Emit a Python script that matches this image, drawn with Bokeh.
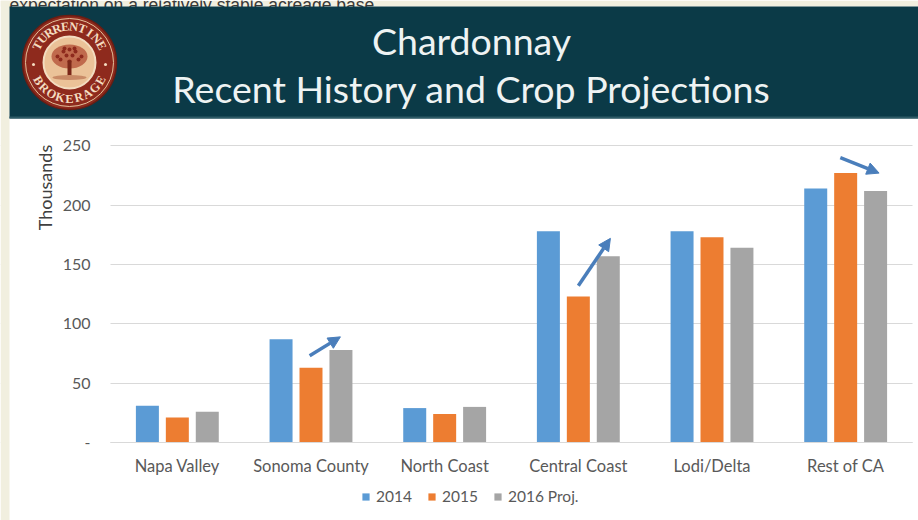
import numpy as np
from bokeh.plotting import figure
from bokeh.models import (Range1d, Legend, LegendItem, Label, Arrow, NormalHead,
                          FixedTicker, ColumnDataSource)
from bokeh.transform import dodge
from bokeh.core.properties import value
from bokeh.embed import file_html
from bokeh.resources import INLINE

# ---------------- data ----------------
regions = ["Napa Valley", "Sonoma County", "North Coast", "Central Coast", "Lodi/Delta", "Rest of CA"]
y2014 = [31, 87, 29, 178, 178, 214]
y2015 = [21, 63, 24, 123, 173, 227]
y2016 = [26, 78, 30, 157, 164, 212]
series_keys = ["y2014", "y2015", "y2016"]
series_names = ["2014", "2015", "2016 Proj."]
series_colors = ["#5b9bd5", "#ed7d31", "#a5a5a5"]
y_ticks = [0, 50, 100, 150, 200, 250]
y_tick_labels = ["-", "50", "100", "150", "200", "250"]
y_axis_title = "Thousands"
title_lines = ["Chardonnay", "Recent History and Crop Projections"]
slide_text = "expectation on a relatively stable acreage base."
logo_top = "TURRENTINE"
logo_bottom = "BROKERAGE"
# trend arrows (category-axis position, thousands)
arrow_x0 = [1.49, 3.50, 5.46]
arrow_y0 = [73, 132, 240]
arrow_x1 = [1.72, 3.74, 5.75]
arrow_y1 = [89, 172, 227]

FONT = "Lato"
HEADER_BG = "#0b3a47"
BEIGE = "#f1efdf"
LBL = "#595959"

# ---------------- layout geometry (canvas pixels -> data) ----------------
W, H = 918, 520
PX0, PX1 = 110, 912        # plot-area left/right
PY0, PY1 = 442, 145.3      # value 0 / value 250
K = (PX1 - PX0) / len(regions)
S = (PY0 - PY1) / 250.0


def X(px):
    return (px - PX0) / K


def Y(py):
    return (PY0 - py) / S


p = figure(width=W, height=H, x_range=Range1d(X(0), X(W)), y_range=Range1d(Y(H), Y(0)),
           output_backend="svg", toolbar_location=None, min_border=0,
           outline_line_color=None, background_fill_color="white", border_fill_color="white")

# ---------------- grid / axes ----------------
p.xgrid.grid_line_color = None
p.ygrid.grid_line_color = "#d9d9d9"
p.ygrid.ticker = FixedTicker(ticks=y_ticks)
# keep gridlines inside the plot area
p.quad(left=[X(0), 6.0], right=[0, X(W)], bottom=[-2, -2], top=[252, 252],
       fill_color="white", line_color=None)

p.yaxis.fixed_location = 0
p.yaxis.ticker = FixedTicker(ticks=y_ticks)
p.yaxis.major_label_overrides = {t: lab for t, lab in zip(y_ticks, y_tick_labels)}
p.yaxis.axis_line_color = None
p.yaxis.major_tick_line_color = None
p.yaxis.minor_tick_line_color = None
p.yaxis.major_tick_out = 0
p.yaxis.major_tick_in = 0
p.yaxis.major_label_standoff = 20
p.yaxis.major_label_text_font = FONT
p.yaxis.major_label_text_font_size = "16px"
p.yaxis.major_label_text_color = LBL

cat_pos = [i + 0.5 for i in range(len(regions))]
p.xaxis.fixed_location = 0
p.xaxis.bounds = (0, len(regions))
p.xaxis.ticker = FixedTicker(ticks=cat_pos)
p.xaxis.major_label_overrides = {c: r for c, r in zip(cat_pos, regions)}
p.xaxis.axis_line_color = "#d9d9d9"
p.xaxis.major_tick_line_color = None
p.xaxis.minor_tick_line_color = None
p.xaxis.major_tick_out = 0
p.xaxis.major_tick_in = 0
p.xaxis.major_label_standoff = 13
p.xaxis.major_label_text_font = FONT
p.xaxis.major_label_text_font_size = "16.5px"
p.xaxis.major_label_text_color = LBL

# ---------------- bars ----------------
src = ColumnDataSource(dict(pos=cat_pos, y2014=y2014, y2015=y2015, y2016=y2016))
offsets = [-0.224, 0.0, 0.224]
renderers = []
for key, color, off in zip(series_keys, series_colors, offsets):
    r = p.vbar(x=dodge("pos", off), top=key, width=0.172, source=src,
               fill_color=color, line_color=None)
    renderers.append(r)

p.add_layout(Label(x=X(44), y=Y(187), text=y_axis_title, angle=np.pi / 2,
                   text_align="center", text_baseline="middle", text_font=FONT,
                   text_font_size="18px", text_color="#404040"))

asrc = ColumnDataSource(dict(x0=arrow_x0, y0=arrow_y0, x1=arrow_x1, y1=arrow_y1))
p.add_layout(Arrow(x_start="x0", y_start="y0", x_end="x1", y_end="y1", source=asrc,
                   line_color="#4a7ebb", line_width=3.5,
                   end=NormalHead(size=12, fill_color="#4a7ebb", line_color="#4a7ebb")))

legend = Legend(items=[LegendItem(label=n, renderers=[r]) for n, r in zip(series_names, renderers)],
                orientation="horizontal", location=(361, 15), padding=0, margin=0,
                spacing=15, label_standoff=6, glyph_width=9, glyph_height=9,
                label_text_font=FONT, label_text_font_size="15.5px", label_text_color=LBL,
                border_line_color=None, background_fill_color=None)
p.add_layout(legend)

# ---------------- slide background strips ----------------
p.quad(left=[X(0), X(0)], right=[X(9), X(W)], bottom=[Y(H), Y(6)], top=[Y(0), Y(0)],
       fill_color=BEIGE, line_color=None)
p.text(x=[X(9)], y=[Y(4)], text=[slide_text], text_align="left", text_baseline="alphabetic",
       text_font=value("Liberation Sans"), text_font_size="17.5px", text_color="#3a3a3a")

# ---------------- header band ----------------
p.quad(left=[X(9)], right=[X(W)], bottom=[Y(118)], top=[Y(6)], fill_color=HEADER_BG, line_color=None)
p.segment(x0=[X(9)], x1=[X(W)], y0=[Y(117)], y1=[Y(117)], line_color="#2e5a66", line_width=2)

p.text(x=[X(471), X(471)], y=[Y(40), Y(88)], text=title_lines, text_align="center",
       text_baseline="middle", text_font=value(FONT), text_font_size="37.5px", text_color="#eef3f3")

# logo
LX, LY = X(69), Y(62)
p.circle(x=[LX], y=[LY], radius=47, radius_units="screen", fill_color="#8e2a1d",
         line_color="#6a1d13", line_width=1.5)
p.circle(x=[LX], y=[LY], radius=44, radius_units="screen", fill_color=None,
         line_color="#e3c09a", line_width=1)
p.circle(x=[LX], y=[LY], radius=26, radius_units="screen", fill_color="#ebc298",
         line_color="#f3dcc0", line_width=2)
p.ellipse(x=[LX], y=[LY + 6 / S], width=36, height=24, width_units="screen", height_units="screen",
          fill_color="#b85a40", fill_alpha=0.85, line_color=None)
tdx = np.array([-12, -6, 0, 6, 12, -9, -3, 3, 9, -5, 5, 0])
tdy = np.array([6, 11, 13, 11, 6, 3, 7, 7, 3, 14, 14, 1])
p.scatter(x=LX + tdx / K, y=LY + tdy / S, size=4, marker="circle", fill_color="#8e2a1d", line_color=None)
p.quad(left=[LX - 2 / K], right=[LX + 2 / K], bottom=[LY - 14 / S], top=[LY + 2 / S],
       fill_color="#7a2618", line_color=None)
p.ellipse(x=[LX], y=[LY - 15 / S], width=34, height=5, width_units="screen", height_units="screen",
          fill_color="#c98a66", line_color=None)

r_txt = 36
ang_top = np.deg2rad(np.linspace(152, 28, len(logo_top)))
p.text(x=LX + r_txt * np.cos(ang_top) / K, y=LY + r_txt * np.sin(ang_top) / S, text=list(logo_top),
       angle=ang_top - np.pi / 2, text_align="center", text_baseline="middle",
       text_font=value("Liberation Serif"), text_font_style="bold", text_font_size="12.5px",
       text_color="#f4dcc0")
ang_bot = np.deg2rad(np.linspace(210, 330, len(logo_bottom)))
p.text(x=LX + r_txt * np.cos(ang_bot) / K, y=LY + r_txt * np.sin(ang_bot) / S, text=list(logo_bottom),
       angle=ang_bot + np.pi / 2, text_align="center", text_baseline="middle",
       text_font=value("Liberation Serif"), text_font_style="bold", text_font_size="12.5px",
       text_color="#f4dcc0")
p.scatter(x=[LX - r_txt / K, LX + r_txt / K], y=[LY - 2 / S, LY - 2 / S], size=3, marker="circle",
          fill_color="#f4dcc0", line_color=None)

open("out.html", "w").write(file_html(p, INLINE))
